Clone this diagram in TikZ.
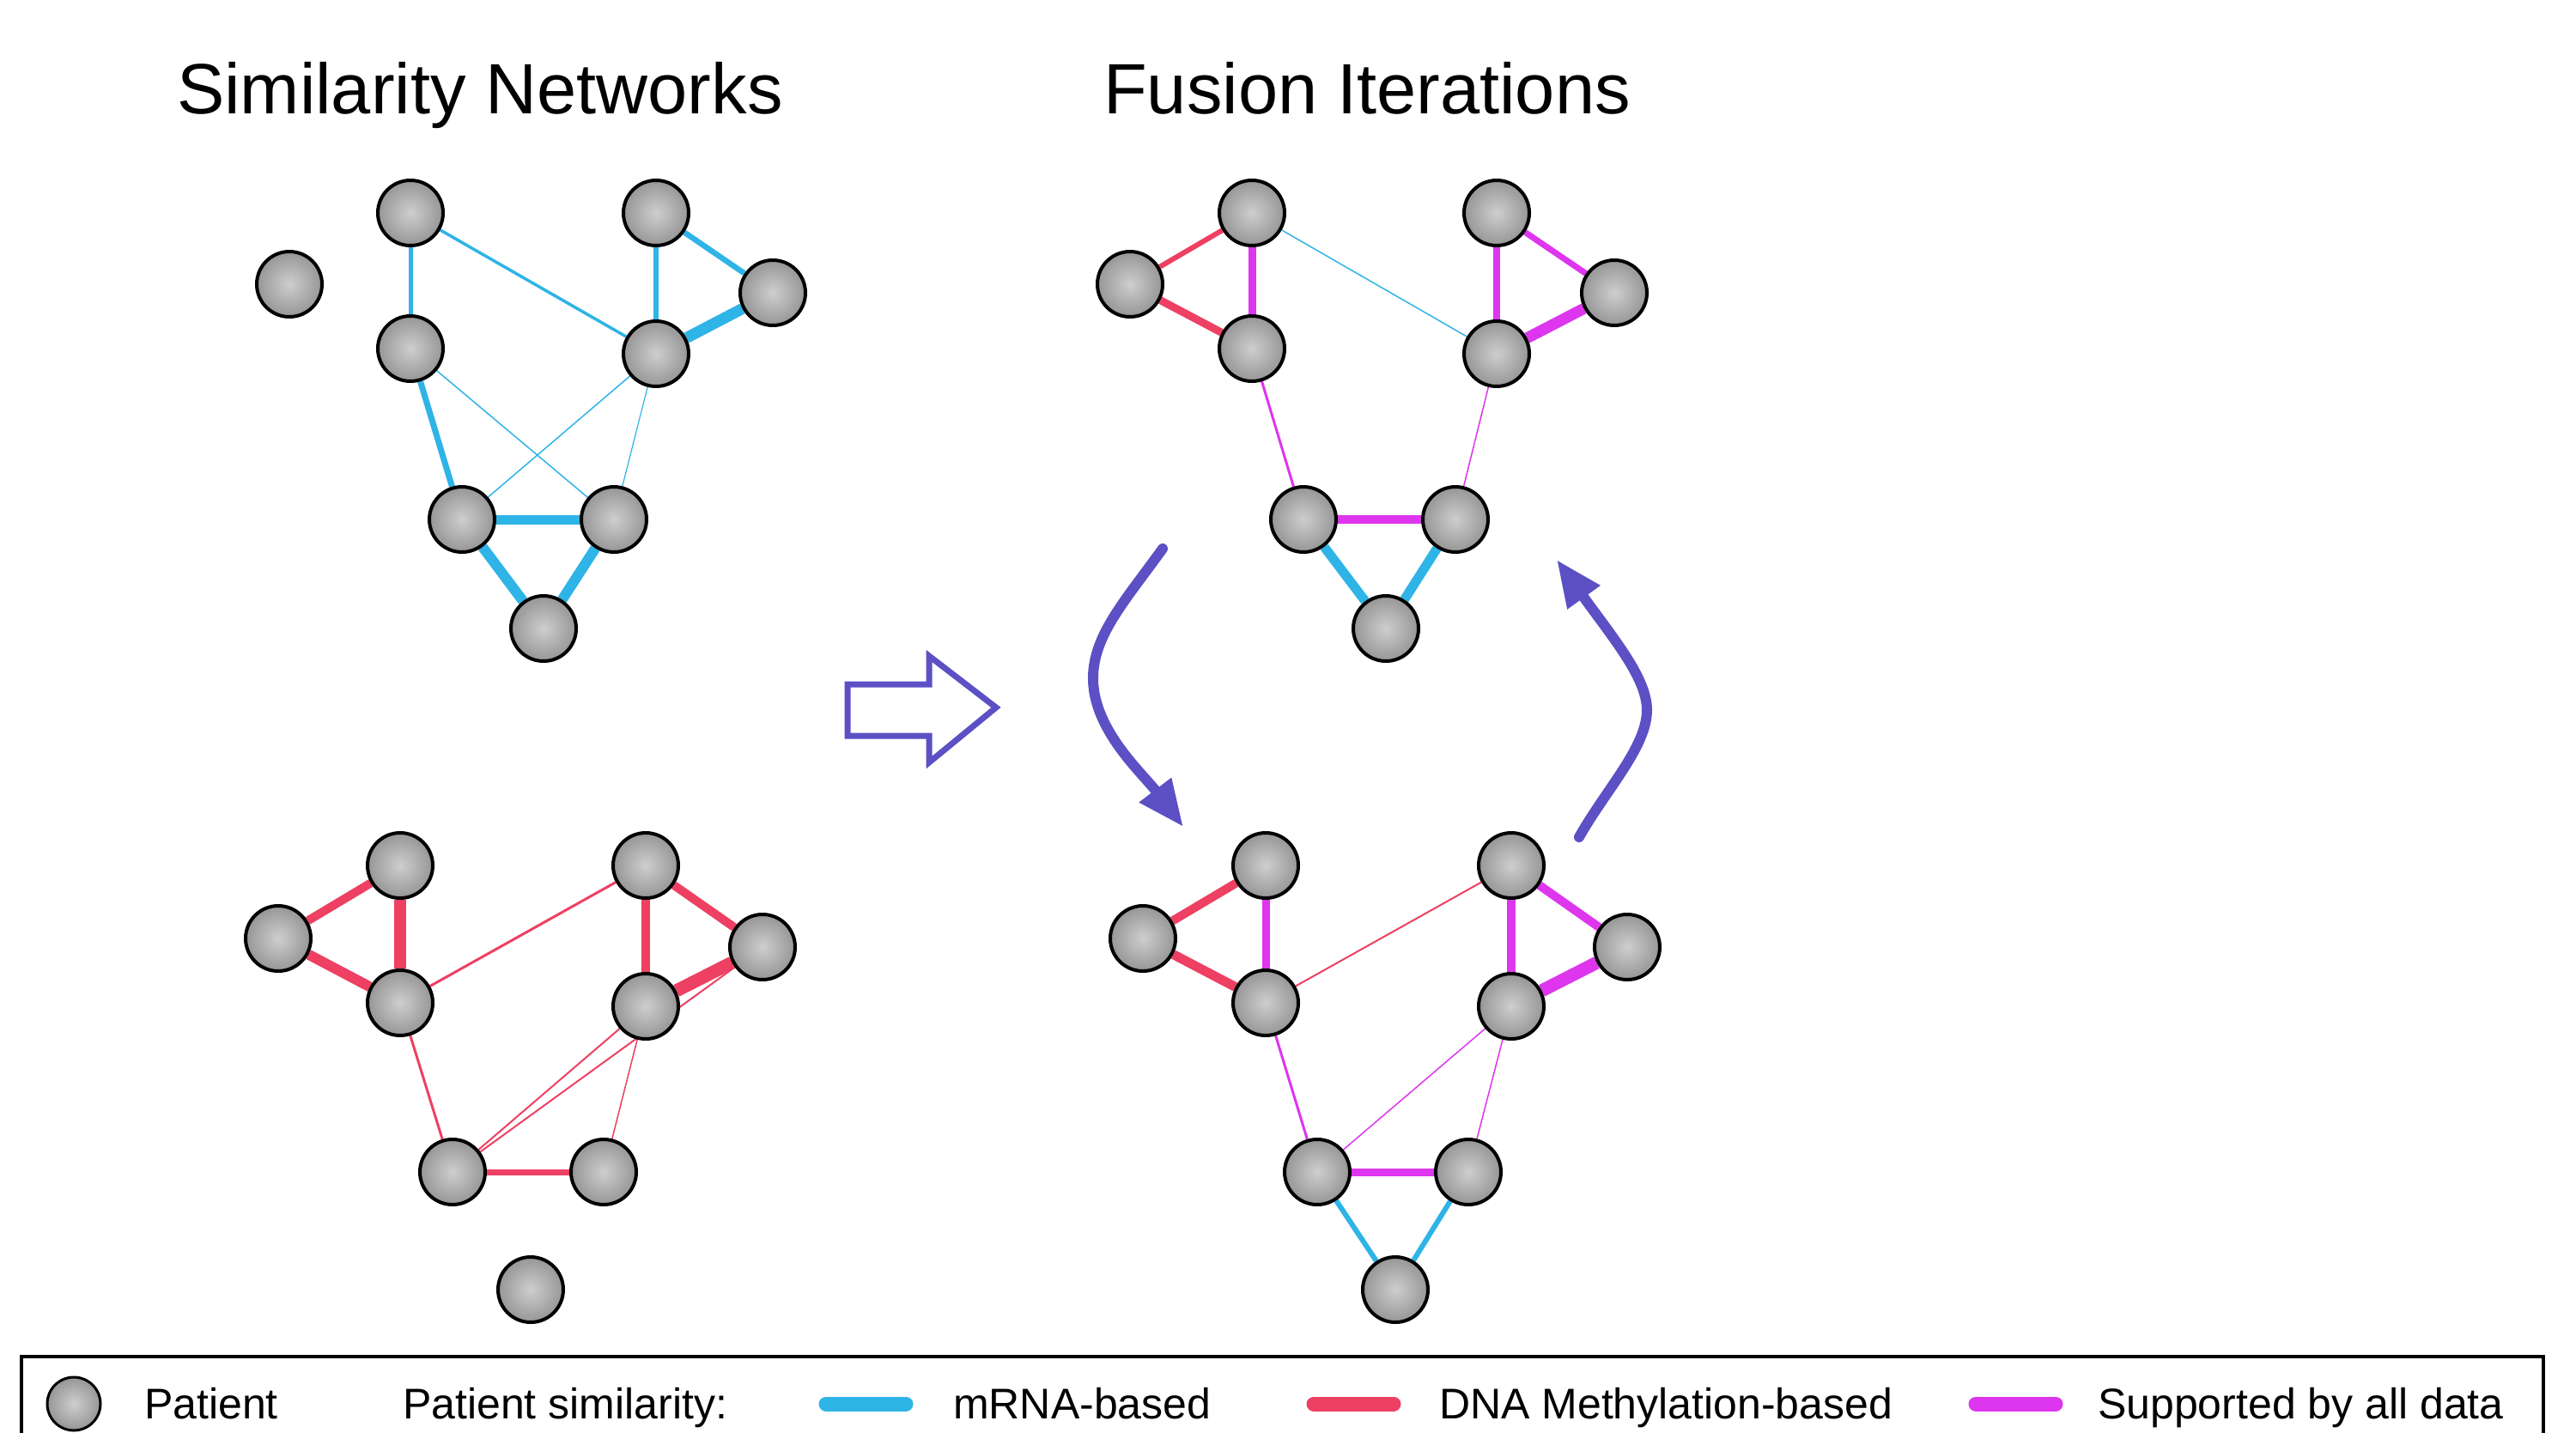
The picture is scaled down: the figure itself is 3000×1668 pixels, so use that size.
\documentclass[tikz,border=0pt]{standalone}
\usepackage{fontspec}
\setmainfont{Liberation Sans}
\usetikzlibrary{arrows.meta}
\definecolor{colMrna}{RGB}{46,180,230}
\definecolor{colMeth}{RGB}{238,64,98}
\definecolor{colAll}{RGB}{221,54,238}
\definecolor{colArrow}{RGB}{92,80,196}
\definecolor{nodeLight}{RGB}{206,206,206}
\definecolor{nodeDark}{RGB}{150,150,150}
\pgfdeclarelayer{edges}
\pgfsetlayers{edges,main}
\begin{document}
\begin{tikzpicture}[x=1pt,y=-1pt,
  patient/.style={circle, draw=black, line width=4pt, inner sep=0pt, minimum size=76pt,
    inner color=nodeLight, outer color=nodeDark},
  mrna/.style={draw=colMrna, line width=#1pt},
  meth/.style={draw=colMeth, line width=#1pt},
  allD/.style={draw=colAll, line width=#1pt},
  iter/.style={draw=colArrow, line width=12pt, line cap=round,
    -{Triangle[length=54pt,width=44pt]}},
  titletext/.style={anchor=base, inner sep=0pt, font=\fontsize{83}{95}\selectfont},
  legtext/.style={anchor=base west, inner sep=0pt, font=\fontsize{50}{60}\selectfont},
  swatch/.style={line width=17pt, line cap=round}]
\useasboundingbox (0,0) rectangle (3000,1668);
\clip (0,0) rectangle (3000,1668);

% titles
\node[titletext] (title1) at (559,132) {Similarity Networks};
\node[titletext] (title2) at (1592,132) {Fusion Iterations};

% top-left network (mRNA)
\node[patient] (t1) at (337,331) {};
\node[patient] (t2) at (478,248) {};
\node[patient] (t3) at (478,406) {};
\node[patient] (t4) at (764,248) {};
\node[patient] (t5) at (900,341) {};
\node[patient] (t6) at (764,412) {};
\node[patient] (t7) at (538,605) {};
\node[patient] (t8) at (715,605) {};
\node[patient] (t9) at (633,732) {};

% top-right network (fusion)
\node[patient] (u1) at (1316,331) {};
\node[patient] (u2) at (1458,248) {};
\node[patient] (u3) at (1458,406) {};
\node[patient] (u4) at (1743,248) {};
\node[patient] (u5) at (1880,341) {};
\node[patient] (u6) at (1743,412) {};
\node[patient] (u7) at (1518,605) {};
\node[patient] (u8) at (1695,605) {};
\node[patient] (u9) at (1614,732) {};

% bottom-left network (methylation)
\node[patient] (v1) at (324,1093) {};
\node[patient] (v2) at (466,1008) {};
\node[patient] (v3) at (466,1168) {};
\node[patient] (v4) at (752,1008) {};
\node[patient] (v5) at (888,1103) {};
\node[patient] (v6) at (752,1172) {};
\node[patient] (v7) at (527,1365) {};
\node[patient] (v8) at (703,1365) {};
\node[patient] (v9) at (618,1502) {};

% bottom-right network (fusion)
\node[patient] (w1) at (1331,1093) {};
\node[patient] (w2) at (1474,1008) {};
\node[patient] (w3) at (1474,1168) {};
\node[patient] (w4) at (1760,1008) {};
\node[patient] (w5) at (1895,1103) {};
\node[patient] (w6) at (1760,1172) {};
\node[patient] (w7) at (1534,1365) {};
\node[patient] (w8) at (1710,1365) {};
\node[patient] (w9) at (1625,1502) {};

\begin{pgfonlayer}{edges}
% top-left
\draw[mrna=5] (t2) -- (t3);
\draw[mrna=3.5] (t2) -- (t6);
\draw[mrna=6] (t4) -- (t6);
\draw[mrna=6.5] (t4) -- (t5);
\draw[mrna=13] (t6) -- (t5);
\draw[mrna=7] (t3) -- (t7);
\draw[mrna=1.5] (t3) -- (t8);
\draw[mrna=1.5] (t6) -- (t7);
\draw[mrna=1.2] (t6) -- (t8);
\draw[mrna=11] (t7) -- (t8);
\draw[mrna=12] (t7) -- (t9);
\draw[mrna=12] (t8) -- (t9);
% top-right
\draw[meth=6] (u1) -- (u2);
\draw[meth=9] (u1) -- (u3);
\draw[allD=9] (u2) -- (u3);
\draw[mrna=1.5] (u2) -- (u6);
\draw[allD=8] (u4) -- (u6);
\draw[allD=7] (u4) -- (u5);
\draw[allD=13] (u6) -- (u5);
\draw[allD=3] (u3) -- (u7);
\draw[allD=1.5] (u6) -- (u8);
\draw[allD=10] (u7) -- (u8);
\draw[mrna=11] (u7) -- (u9);
\draw[mrna=11] (u8) -- (u9);
% bottom-left
\draw[meth=10] (v1) -- (v2);
\draw[meth=12] (v1) -- (v3);
\draw[meth=14] (v2) -- (v3);
\draw[meth=3] (v3) -- (v4);
\draw[meth=10] (v4) -- (v6);
\draw[meth=10] (v4) -- (v5);
\draw[meth=15] (v6) -- (v5);
\draw[meth=3] (v3) -- (v7);
\draw[meth=2] (v7) -- (v6);
\draw[meth=2] (v7) -- (v5);
\draw[meth=1.5] (v6) -- (v8);
\draw[meth=7] (v7) -- (v8);
% bottom-right
\draw[meth=10] (w1) -- (w2);
\draw[meth=11] (w1) -- (w3);
\draw[allD=9] (w2) -- (w3);
\draw[meth=2] (w3) -- (w4);
\draw[allD=10] (w4) -- (w6);
\draw[allD=10] (w4) -- (w5);
\draw[allD=15] (w6) -- (w5);
\draw[allD=3] (w3) -- (w7);
\draw[allD=1.5] (w6) -- (w7);
\draw[allD=1.5] (w6) -- (w8);
\draw[allD=9] (w7) -- (w8);
\draw[mrna=6] (w7) -- (w9);
\draw[mrna=6] (w8) -- (w9);
\end{pgfonlayer}

% block arrow
\draw[colArrow, line width=7pt, line join=miter]
  (987,797) -- (1082,797) -- (1082,764) -- (1160,824) -- (1082,888) -- (1082,857) -- (987,857) -- cycle;

% iteration arrows
\coordinate (la1) at (1354,639);
\coordinate (la2) at (1378,963);
\draw[iter] (la1) .. controls (1310,700) and (1273,740) .. (1273,790)
  .. controls (1273,850) and (1330,900) .. (la2);
\coordinate (ra1) at (1839,975);
\coordinate (ra2) at (1813,652);
\draw[iter] (ra1) .. controls (1870,920) and (1918,870) .. (1918,827)
  .. controls (1918,790) and (1880,745) .. (ra2);

% legend
\draw[black, line width=4pt] (25,1580) rectangle (2962,1720);
\node[patient, line width=3pt, minimum size=62pt] (lp) at (86,1635) {};
\node[legtext] (lt1) at (168,1652) {Patient};
\node[legtext] (lt2) at (469,1652) {Patient similarity:};
\draw[swatch, colMrna] (962,1635) -- (1055,1635);
\node[legtext] (lt3) at (1110,1652) {mRNA-based};
\draw[swatch, colMeth] (1530,1635) -- (1623,1635);
\node[legtext] (lt4) at (1676,1652) {DNA Methylation-based};
\draw[swatch, colAll] (2301,1635) -- (2394,1635);
\node[legtext] (lt5) at (2443,1652) {Supported by all data};
\end{tikzpicture}
\end{document}
